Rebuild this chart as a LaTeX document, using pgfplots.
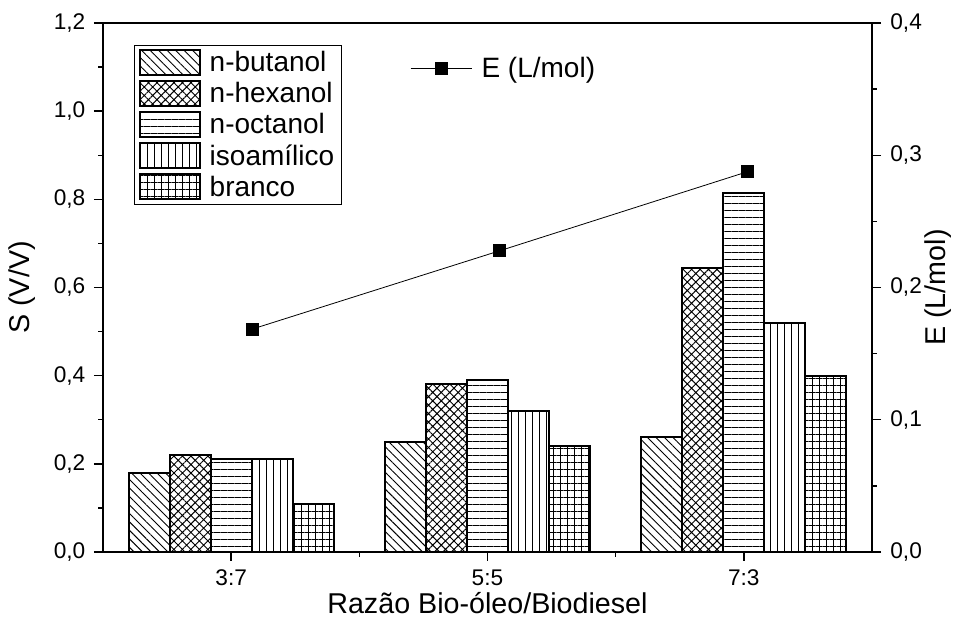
\documentclass[border=0pt]{standalone}
\usepackage{fontspec}
\setmainfont{Liberation Sans}
\usepackage{pgfplots}
\pgfplotsset{compat=1.18}
\usetikzlibrary{patterns.meta}

\begin{document}
\begin{tikzpicture}
\pgfplotsset{
 common/.style={
  width=576.75pt, height=396.75pt, scale only axis,
  xmin=0.5, xmax=3.5,
  at={(0pt,0pt)}, anchor=south west,
  /pgf/number format/assume math mode=true,
  /pgf/number format/use comma,
  /pgf/number format/fixed,
  /pgf/number format/fixed zerofill,
  /pgf/number format/precision=1,
  tick label style={font=\fontsize{17}{19}\selectfont},
  label style={font=\fontsize{21.5}{24}\selectfont},
  axis line style={line width=1.3pt},
  major tick length=6.75pt, minor tick length=3.5pt,
  every tick/.append style={line width=1.1pt, black},
  tick align=outside,
 }
}
\begin{axis}[common,
  ybar, bar width=0.16,
  ymin=0, ymax=1.2,
  ytick={0,0.2,0.4,0.6,0.8,1.0,1.2}, minor y tick num=1,
  xtick={1,2,3}, xticklabels={3:7,5:5,7:3}, minor x tick num=1,
  xtick pos=bottom, ytick pos=left,
  xticklabel style={yshift=-3pt},
  yticklabel style={xshift=-3pt},
  ylabel={S (V/V)},
  ylabel style={at={(axis description cs:-0.105,0.5)}, anchor=center, rotate=0},
  xlabel={Razão Bio-óleo/Biodiesel},
  xlabel style={at={(axis description cs:0.5,-0.0964)}, anchor=center},
  legend image code/.code={\draw[#1] (0pt,-9.4pt) rectangle (45pt,9.4pt);},
  legend cell align=left,
  legend style={at={(rel axis cs:0.0403,0.958)}, anchor=north west,
    draw=black, line width=0.6pt, font=\fontsize{21}{24}\selectfont,
    row sep=2.5pt, column sep=4.5pt, inner xsep=3.5pt, inner ysep=2.5pt},
]
\addplot[draw=black, line width=1.5pt, bar shift=-0.32,
  pattern={Lines[angle=-45,distance=4.5pt,line width=0.7pt]}]
  coordinates {(1,0.18) (2,0.25) (3,0.26)};
\addplot[draw=black, line width=1.5pt, bar shift=-0.16,
  pattern={Hatch[angle=45,distance=4.5pt,line width=0.7pt]}]
  coordinates {(1,0.22) (2,0.38) (3,0.645)};
\addplot[draw=black, line width=1.5pt, bar shift=0,
  pattern={Lines[angle=0,distance=5.25pt,line width=0.7pt]}]
  coordinates {(1,0.21) (2,0.39) (3,0.815)};
\addplot[draw=black, line width=1.5pt, bar shift=0.16,
  pattern={Lines[angle=90,distance=5.25pt,line width=0.7pt]}]
  coordinates {(1,0.21) (2,0.32) (3,0.52)};
\addplot[draw=black, line width=1.5pt, bar shift=0.32,
  pattern={Hatch[angle=0,distance=5.25pt,line width=0.7pt]}]
  coordinates {(1,0.11) (2,0.24) (3,0.40)};
\legend{n-butanol,n-hexanol,n-octanol,isoamílico,branco}
\end{axis}
\begin{axis}[common,
  ymin=0, ymax=0.4,
  ytick={0,0.1,0.2,0.3,0.4}, minor y tick num=1,
  axis y line*=right, axis x line=none,
  yticklabel style={xshift=3.5pt},
  ylabel={E (L/mol)},
  ylabel style={at={(axis description cs:1.0858,0.5)}, anchor=center, rotate=0},
  legend image code/.code={\draw[mark repeat=2,mark phase=2,#1] plot coordinates {(0pt,0pt) (23pt,0pt) (46pt,0pt)};},
  legend style={at={(rel axis cs:0.399,0.915)}, anchor=west,
    draw=none, fill=none, font=\fontsize{21}{24}\selectfont, inner sep=0pt,
    column sep=5pt},
]
\addplot[black, line width=0.6pt, mark=square*, mark size=4.5pt, mark options={solid}]
  coordinates {(1.083,0.1686) (2.048,0.2278) (3.015,0.2876)};
\legend{E (L/mol)}
\end{axis}
\pgfresetboundingbox
\path (-77.25pt,-58.5pt) rectangle (640.5pt,414pt);
\end{tikzpicture}
\end{document}
